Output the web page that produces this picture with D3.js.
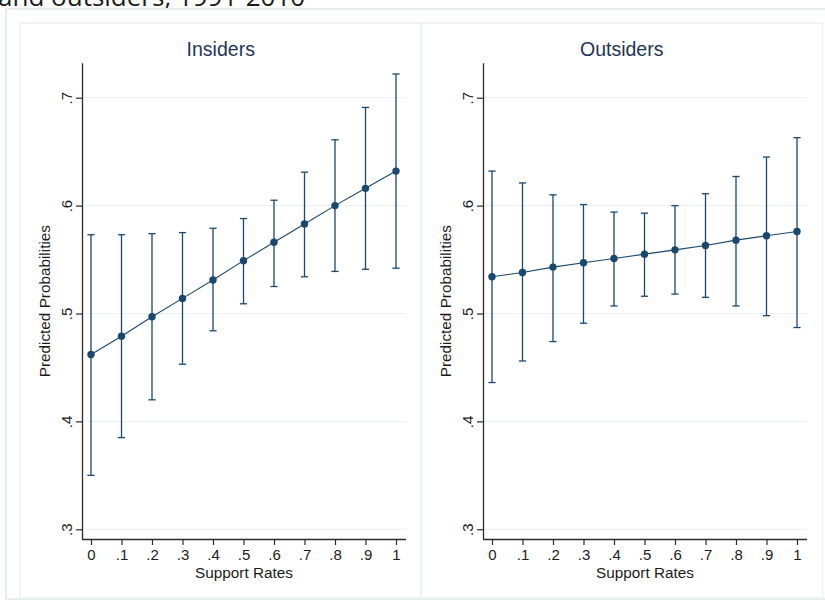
<!DOCTYPE html>
<html>
<head>
<meta charset="utf-8">
<script src="https://cdn.jsdelivr.net/npm/d3@7"></script>
<style>
  html, body { margin: 0; padding: 0; background: #ffffff; }
  svg { display: block; }
</style>
</head>
<body>
<svg id="chart" width="825" height="603"></svg>
<script>
// Support rates on the x axis
const supportRates = [0, 0.1, 0.2, 0.3, 0.4, 0.5, 0.6, 0.7, 0.8, 0.9, 1];
const xTickLabels = ["0", ".1", ".2", ".3", ".4", ".5", ".6", ".7", ".8", ".9", "1"];
const yTicks = [0.3, 0.4, 0.5, 0.6, 0.7];
const yTickLabels = [".3", ".4", ".5", ".6", ".7"];

// Insiders: predicted probability with 95% CI
const insidersMean = [0.462, 0.479, 0.497, 0.514, 0.531, 0.549, 0.566, 0.583, 0.600, 0.616, 0.632];
const insidersLow  = [0.350, 0.385, 0.420, 0.453, 0.484, 0.509, 0.525, 0.534, 0.539, 0.541, 0.542];
const insidersHigh = [0.573, 0.573, 0.574, 0.575, 0.579, 0.588, 0.605, 0.631, 0.661, 0.691, 0.722];

// Outsiders: predicted probability with 95% CI
const outsidersMean = [0.534, 0.538, 0.543, 0.547, 0.551, 0.555, 0.559, 0.563, 0.568, 0.572, 0.576];
const outsidersLow  = [0.436, 0.456, 0.474, 0.491, 0.507, 0.516, 0.518, 0.515, 0.507, 0.498, 0.487];
const outsidersHigh = [0.632, 0.621, 0.610, 0.601, 0.594, 0.593, 0.600, 0.611, 0.627, 0.645, 0.663];

const panelTitles = ["Insiders", "Outsiders"];
const xTitle = "Support Rates";
const yTitle = "Predicted Probabilities";
const headline = "and outsiders, 1991-2010";

const navy = "#1a476f";
const svg = d3.select("#chart");

// Page text above the figure (its upper part runs off the top edge)
svg.append("text")
  .attr("x", -2).attr("y", 6)
  .attr("font-family", "'Open Sans', 'Noto Sans', sans-serif")
  .attr("font-size", 26)
  .attr("fill", "#1b1b1b")
  .text(headline);

// Outer graph frame
svg.append("rect")
  .attr("x", 6).attr("y", 9).attr("width", 850).attr("height", 590)
  .attr("fill", "none").attr("stroke", "#e4ecf0").attr("stroke-width", 2);

const panels = [
  { title: panelTitles[0], mean: insidersMean, low: insidersLow, high: insidersHigh, left: 20 },
  { title: panelTitles[1], mean: outsidersMean, low: outsidersLow, high: outsidersHigh, left: 421 }
];

const panelW = 401.5, panelTop = 23, panelBottom = 598;
const plotOffset = 62, plotW = 324;  // axis line position and plot width inside a panel
const plotTop = 63.3, plotBottom = 539;

const fontAxis = "'Liberation Sans', Arial, sans-serif";

panels.forEach(p => {
  const g = svg.append("g");

  // panel box
  g.append("rect")
    .attr("x", p.left).attr("y", panelTop)
    .attr("width", panelW).attr("height", panelBottom - panelTop)
    .attr("fill", "none").attr("stroke", "#eaf1f4").attr("stroke-width", 1.5);

  const x0 = p.left + plotOffset;
  const x = d3.scaleLinear().domain([-0.0295, 1.0328]).range([x0, x0 + plotW]);
  const y = d3.scaleLinear().domain([0.2910, 0.7319]).range([plotBottom, plotTop]);

  // gridlines
  g.append("g").selectAll("line").data(yTicks).join("line")
    .attr("x1", x0).attr("x2", x0 + plotW)
    .attr("y1", d => y(d)).attr("y2", d => y(d))
    .attr("stroke", "#e8f0f2").attr("stroke-width", 1);

  // y axis
  const yAxis = d3.axisLeft(y).tickValues(yTicks)
    .tickFormat((d, i) => yTickLabels[i]).tickSize(6).tickPadding(4);
  const ya = g.append("g").attr("transform", `translate(${x0},0)`).call(yAxis);
  ya.select(".domain").attr("stroke", "#2b2b2b").attr("stroke-width", 1.3)
    .attr("d", `M0.5,${plotTop}V${plotBottom}`);
  ya.selectAll(".tick line").attr("stroke", "#2b2b2b").attr("stroke-width", 1.2);
  ya.selectAll(".tick text")
    .attr("font-family", fontAxis).attr("font-size", 15).attr("fill", "#1b1b1b")
    .attr("text-anchor", "middle")
    .attr("x", null).attr("dy", null)
    .attr("transform", "translate(-10,0) rotate(-90)");

  // x axis
  const xAxis = d3.axisBottom(x).tickValues(supportRates)
    .tickFormat((d, i) => xTickLabels[i]).tickSize(6).tickPadding(4);
  const xa = g.append("g").attr("transform", `translate(0,${plotBottom})`).call(xAxis);
  xa.select(".domain").attr("stroke", "#2b2b2b").attr("stroke-width", 1.3)
    .attr("d", `M${x0},0.5H${x0 + plotW}`);
  xa.selectAll(".tick line").attr("stroke", "#2b2b2b").attr("stroke-width", 1.2);
  xa.selectAll(".tick text")
    .attr("font-family", fontAxis).attr("font-size", 15).attr("fill", "#1b1b1b");

  // axis titles
  g.append("text")
    .attr("x", x0 + plotW / 2).attr("y", 577.5)
    .attr("text-anchor", "middle")
    .attr("font-family", fontAxis).attr("font-size", 15.3).attr("fill", "#1b1b1b")
    .text(xTitle);
  g.append("text")
    .attr("transform", `translate(${x0 - 32},${(plotTop + plotBottom) / 2}) rotate(-90)`)
    .attr("text-anchor", "middle")
    .attr("font-family", fontAxis).attr("font-size", 15.3).attr("fill", "#1b1b1b")
    .text(yTitle);

  // panel title
  g.append("text")
    .attr("x", p.left + panelW / 2).attr("y", 56)
    .attr("text-anchor", "middle")
    .attr("font-family", fontAxis).attr("font-size", 19.5).attr("fill", "#1f3557")
    .text(p.title);

  const rows = supportRates.map((s, i) => ({ s, m: p.mean[i], lo: p.low[i], hi: p.high[i] }));

  // confidence intervals with caps
  const ci = g.append("g").attr("stroke", navy).attr("stroke-width", 1.3).attr("fill", "none");
  ci.selectAll("line.bar").data(rows).join("line").attr("class", "bar")
    .attr("x1", d => x(d.s)).attr("x2", d => x(d.s))
    .attr("y1", d => y(d.lo)).attr("y2", d => y(d.hi));
  ci.selectAll("line.capT").data(rows).join("line").attr("class", "capT")
    .attr("x1", d => x(d.s) - 3.6).attr("x2", d => x(d.s) + 3.6)
    .attr("y1", d => y(d.hi)).attr("y2", d => y(d.hi));
  ci.selectAll("line.capB").data(rows).join("line").attr("class", "capB")
    .attr("x1", d => x(d.s) - 3.6).attr("x2", d => x(d.s) + 3.6)
    .attr("y1", d => y(d.lo)).attr("y2", d => y(d.lo));

  // connecting line
  g.append("path").datum(rows)
    .attr("fill", "none").attr("stroke", navy).attr("stroke-width", 1.1)
    .attr("d", d3.line().x(d => x(d.s)).y(d => y(d.m)));

  // point estimates
  g.append("g").selectAll("circle").data(rows).join("circle")
    .attr("cx", d => x(d.s)).attr("cy", d => y(d.m)).attr("r", 3.7)
    .attr("fill", navy);
});
</script>
</body>
</html>
